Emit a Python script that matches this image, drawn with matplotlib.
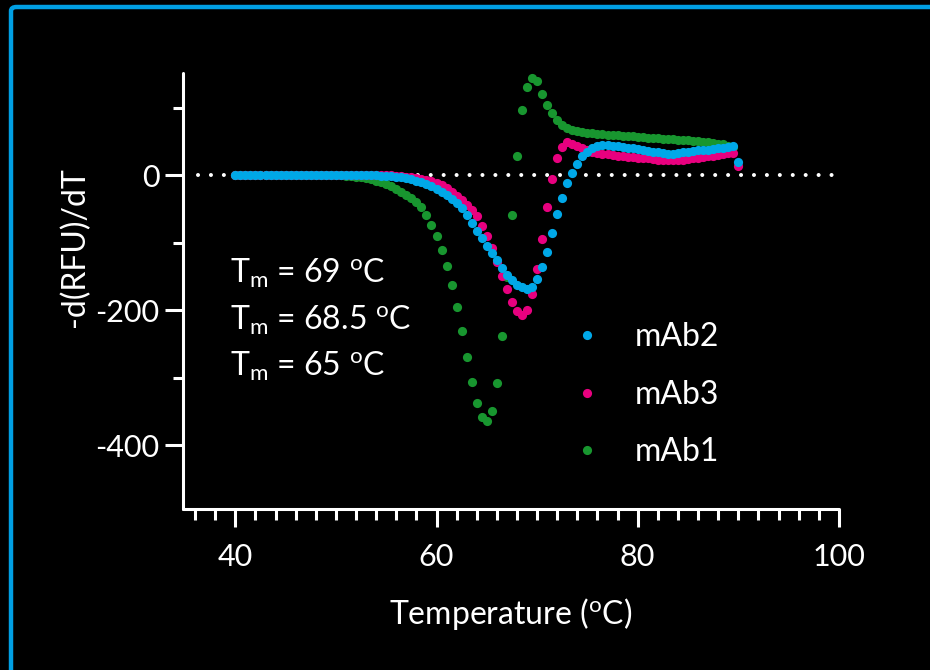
import numpy as np
import matplotlib
matplotlib.use('Agg')
import matplotlib.pyplot as plt
from matplotlib.ticker import FixedLocator, MultipleLocator
from matplotlib.patches import FancyBboxPatch

plt.rcParams['font.family'] = ['Lato', 'DejaVu Sans']
plt.rcParams['mathtext.fontset'] = 'custom'
plt.rcParams['mathtext.rm'] = 'Lato'
plt.rcParams['mathtext.it'] = 'Lato'
plt.rcParams['axes.unicode_minus'] = False

# temperatura (C), passo de 0.5
temps = [
    40.0, 40.5, 41.0, 41.5, 42.0, 42.5, 43.0, 43.5, 44.0, 44.5,
    45.0, 45.5, 46.0, 46.5, 47.0, 47.5, 48.0, 48.5, 49.0, 49.5,
    50.0, 50.5, 51.0, 51.5, 52.0, 52.5, 53.0, 53.5, 54.0, 54.5,
    55.0, 55.5, 56.0, 56.5, 57.0, 57.5, 58.0, 58.5, 59.0, 59.5,
    60.0, 60.5, 61.0, 61.5, 62.0, 62.5, 63.0, 63.5, 64.0, 64.5,
    65.0, 65.5, 66.0, 66.5, 67.0, 67.5, 68.0, 68.5, 69.0, 69.5,
    70.0, 70.5, 71.0, 71.5, 72.0, 72.5, 73.0, 73.5, 74.0, 74.5,
    75.0, 75.5, 76.0, 76.5, 77.0, 77.5, 78.0, 78.5, 79.0, 79.5,
    80.0, 80.5, 81.0, 81.5, 82.0, 82.5, 83.0, 83.5, 84.0, 84.5,
    85.0, 85.5, 86.0, 86.5, 87.0, 87.5, 88.0, 88.5, 89.0, 89.5,
    90.0,
]

# -d(RFU)/dT de cada anticorpo
mab2 = [
    1, 1, 1, 1, 1, 1, 1, 1, 1, 1,
    1, 1, 1, 1, 1, 1, 1, 1, 1, 1,
    1, 1, 1, 1, 1, 1, 0, 0, 0, -1,
    -1, -1, -2, -3, -4, -6, -8, -10, -13, -16,
    -20, -24, -29, -35, -41, -49, -59, -71, -82, -93,
    -104, -115, -126, -137, -147, -155, -162, -166, -168, -165,
    -154, -136, -113, -85, -58, -33, -12, 4, 17, 28,
    35, 40, 44, 45, 45, 44, 43, 42, 41, 40,
    39, 38, 36, 35, 34, 33, 32, 32, 33, 34,
    35, 36, 37, 37, 38, 39, 40, 41, 42, 44,
    20,
]
mab3 = [
    1, 1, 1, 1, 1, 1, 1, 1, 1, 1,
    1, 1, 1, 1, 1, 1, 1, 1, 1, 1,
    1, 1, 1, 1, 1, 1, 1, 1, 0, 0,
    0, 0, -1, -1, -2, -3, -4, -5, -7, -9,
    -12, -15, -19, -24, -30, -37, -44, -51, -61, -75,
    -90, -107, -128, -149, -169, -187, -201, -207, -199, -176,
    -139, -95, -47, -5, 26, 42, 50, 47, 43, 40,
    37, 35, 33, 32, 31, 30, 29, 28, 27, 27,
    26, 25, 25, 24, 23, 23, 22, 22, 22, 23,
    24, 25, 26, 27, 28, 29, 30, 31, 33, 33,
    14,
]
mab1 = [
    0, 0, 0, 0, 0, 0, 0, 0, 0, 0,
    0, 0, 0, 0, 0, 0, 0, 0, 0, 0,
    0, 0, -1, -1, -2, -3, -4, -6, -8, -10,
    -13, -16, -20, -24, -29, -34, -40, -47, -59, -73,
    -90, -110, -134, -163, -195, -230, -269, -306, -337, -358,
    -364, -349, -308, -238, -150, -59, 29, 96, 131, 144,
    139, 121, 104, 92, 82, 75, 70, 67, 65, 64,
    63, 62, 61, 60.5, 60, 59.5, 59, 58.5, 58, 57.5,
    57, 56.5, 56, 55.5, 55, 54.5, 54, 53.5, 53, 52.5,
    52, 51, 50.5, 50, 49, 48, 47, 46, 44, 42,
    np.nan,
]

tm_labels = ['69', '68.5', '65']

cor_azul = '#00a8e8'
cor_rosa = '#e8007f'
cor_verde = '#18962f'

fs = 23

fig = plt.figure(figsize=(9.3, 6.7), dpi=100, facecolor='black')
ax = fig.add_axes([0.1968, 0.2396, 0.7052, 0.6519])
ax.set_facecolor('black')

# moldura azul
moldura = FancyBboxPatch((11 / 930, 1 - 690 / 670), 960 / 930, 683 / 670,
                         boxstyle='round,pad=0,rounding_size=0.006',
                         transform=fig.transFigure, fill=False,
                         edgecolor='#009fe3', linewidth=3.2, zorder=0)
fig.patches.append(moldura)

# linha pontilhada no zero
ax.hlines(0, 36.3, 99.3, colors='white', linewidth=2.9,
          linestyles=[(0, (0.01, 3.2))], capstyle='round', zorder=1)

ms = 6.6
ax.plot(temps, mab1, 'o', ms=ms, color=cor_verde, mec='none', label='mAb1', zorder=2)
ax.plot(temps, mab3, 'o', ms=ms, color=cor_rosa, mec='none', label='mAb3', zorder=3)
ax.plot(temps, mab2, 'o', ms=ms, color=cor_azul, mec='none', label='mAb2', zorder=4)

ax.set_xlim(34.8, 100)
ax.set_ylim(-495, 152)

for lado in ['top', 'right']:
    ax.spines[lado].set_visible(False)
for lado in ['left', 'bottom']:
    ax.spines[lado].set_color('white')
    ax.spines[lado].set_linewidth(2.2)
    ax.spines[lado].set_capstyle('round')

ax.xaxis.set_major_locator(FixedLocator([40, 60, 80, 100]))
ax.xaxis.set_minor_locator(MultipleLocator(2))
ax.yaxis.set_major_locator(FixedLocator([0, -200, -400]))
ax.yaxis.set_minor_locator(FixedLocator([100, -100, -300]))

ax.tick_params(axis='x', which='major', length=13, width=2.2, color='white',
               labelcolor='white', labelsize=22, pad=11)
ax.tick_params(axis='x', which='minor', length=8, width=2.2, color='white')
ax.tick_params(axis='y', which='major', length=13, width=2.2, color='white',
               labelcolor='white', labelsize=22, pad=4)
ax.tick_params(axis='y', which='minor', length=7, width=2.2, color='white')

ax.set_xlabel(r'Temperature ($^{\mathrm{o}}$C)', color='white', fontsize=fs, labelpad=18)
ax.set_ylabel('-d(RFU)/dT', color='white', fontsize=fs)
ax.yaxis.set_label_coords(-0.142, 0.60)

# valores de Tm
for i, tm in enumerate(tm_labels):
    ax.text(0.072, 0.518 - i * 0.106,
            r'T$_{\mathrm{m}}$ = ' + tm + r' $^{\mathrm{o}}$C',
            transform=ax.transAxes, color='white', fontsize=fs, va='baseline')

handles, labels = ax.get_legend_handles_labels()
ordem = [2, 1, 0]
leg = ax.legend([handles[i] for i in ordem], [labels[i] for i in ordem],
                loc='upper left', bbox_to_anchor=(0.548, 0.494), frameon=False,
                fontsize=fs, labelcolor='white', handlelength=1.0,
                handletextpad=1.0, labelspacing=0.86, numpoints=1,
                markerscale=1.0)

fig.savefig('out.png', dpi=100, facecolor='black')
